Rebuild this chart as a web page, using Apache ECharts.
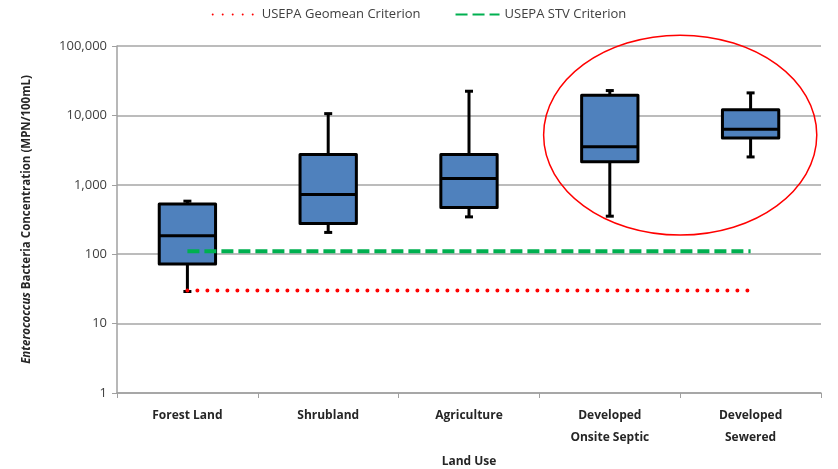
<!DOCTYPE html>
<html>
<head>
<meta charset="utf-8">
<script src="https://cdn.jsdelivr.net/npm/echarts@6/dist/echarts.min.js"></script>
<style>
  html, body { margin: 0; padding: 0; background: #fff; }
  #chart { width: 838px; height: 469px; }
</style>
</head>
<body>
<div id="chart"></div>
<script>
// land use categories
var categories = ['Forest Land', 'Shrubland', 'Agriculture', 'Developed\nOnsite Septic', 'Developed\nSewered']
// box stats per category: min, q1, median, q3, max
var whiskerLow = [29, 206, 345, 353, 2520]
var q1 = [72, 277, 471, 2140, 4740]
var median = [184, 726, 1230, 3520, 6320]
var q3 = [531, 2730, 2730, 19500, 12100]
var whiskerHigh = [581, 10600, 22300, 22800, 21100]
// criteria (MPN/100mL)
var geomean = [30, 30, 30, 30, 30]
var stv = [110, 110, 110, 110, 110]
var yTicks = [1, 10, 100, 1000, 10000, 100000]

var boxData = categories.map(function (c, i) {
  return [i, whiskerLow[i], q1[i], median[i], q3[i], whiskerHigh[i]]
})

var chart = echarts.init(document.getElementById('chart'))
var font = '"Open Sans", "Liberation Sans", sans-serif'
var stroke = '#000'

function renderBox (params, api) {
  var idx = api.value(0)
  var pLow = api.coord([idx, api.value(1)])
  var pQ1 = api.coord([idx, api.value(2)])
  var pMed = api.coord([idx, api.value(3)])
  var pQ3 = api.coord([idx, api.value(4)])
  var pHigh = api.coord([idx, api.value(5)])
  var w = api.size([1, 0])[0] * 0.4
  var cx = pMed[0]
  var cap = 4
  var ls = { stroke: stroke, lineWidth: 3 }
  return {
    type: 'group',
    children: [
      { type: 'line', shape: { x1: cx, y1: pHigh[1], x2: cx, y2: pQ3[1] }, style: ls },
      { type: 'line', shape: { x1: cx, y1: pQ1[1], x2: cx, y2: pLow[1] }, style: ls },
      { type: 'line', shape: { x1: cx - cap, y1: pHigh[1], x2: cx + cap, y2: pHigh[1] }, style: ls },
      { type: 'line', shape: { x1: cx - cap, y1: pLow[1], x2: cx + cap, y2: pLow[1] }, style: ls },
      {
        type: 'rect',
        shape: { x: cx - w / 2, y: pQ3[1], width: w, height: pQ1[1] - pQ3[1] },
        style: { fill: '#4F81BD', stroke: stroke, lineWidth: 3, lineJoin: 'round' }
      },
      { type: 'line', shape: { x1: cx - w / 2, y1: pMed[1], x2: cx + w / 2, y2: pMed[1] }, style: ls }
    ]
  }
}

var option = {
  backgroundColor: '#fff',
  animation: false,
  grid: {
    left: 117,
    right: 17,
    top: 46,
    bottom: 76,
    containLabel: false,
    outerBoundsMode: 'none'
  },
  legend: {
    top: 3,
    left: 'center',
    itemWidth: 44,
    itemHeight: 14,
    itemGap: 34,
    itemStyle: { opacity: 0 },
    textStyle: {
      fontFamily: font,
      fontSize: 13,
      color: '#404040'
    },
    data: ['USEPA Geomean Criterion', 'USEPA STV Criterion']
  },
  xAxis: {
    type: 'category',
    data: categories,
    name: 'Land Use',
    nameLocation: 'middle',
    nameGap: 63,
    nameTextStyle: {
      fontFamily: font,
      fontSize: 12,
      fontWeight: 'bold',
      color: '#262626'
    },
    axisLine: { lineStyle: { color: '#A0A0A0', width: 1.5 } },
    axisTick: { show: true, length: 5, lineStyle: { color: '#A0A0A0' } },
    axisLabel: {
      interval: 0,
      margin: 12,
      lineHeight: 22,
      fontFamily: font,
      fontSize: 12,
      fontWeight: 'bold',
      color: '#262626'
    }
  },
  yAxis: {
    type: 'log',
    logBase: 10,
    min: yTicks[0],
    max: yTicks[yTicks.length - 1],
    name: '{i|Enterococcus} Bacteria Concentration (MPN/100mL)',
    nameLocation: 'middle',
    nameGap: 84,
    nameTextStyle: {
      fontFamily: font,
      fontSize: 11.5,
      fontWeight: 'bold',
      color: '#262626',
      rich: {
        i: { fontFamily: font, fontSize: 11.5, fontWeight: 'bold', fontStyle: 'italic', color: '#262626' }
      }
    },
    axisLine: { show: true, lineStyle: { color: '#A0A0A0', width: 1.5 } },
    axisTick: { show: true, inside: false, length: 5, lineStyle: { color: '#A0A0A0' } },
    axisLabel: {
      margin: 10,
      fontFamily: font,
      fontSize: 13,
      color: '#404040',
      formatter: function (v) { return Number(v).toLocaleString('en-US') }
    },
    splitLine: { show: true, lineStyle: { color: '#A6A6A6', width: 1.5 } }
  },
  series: [
    {
      name: 'boxes',
      type: 'custom',
      renderItem: renderBox,
      encode: { x: 0, y: [1, 2, 3, 4, 5] },
      data: boxData,
      z: 2
    },
    {
      name: 'USEPA Geomean Criterion',
      type: 'line',
      symbol: 'none',
      data: geomean,
      lineStyle: { color: '#FF0000', width: 4, type: [0, 10], cap: 'round' },
      itemStyle: { color: '#FF0000' },
      z: 3
    },
    {
      name: 'USEPA STV Criterion',
      type: 'line',
      symbol: 'none',
      data: stv,
      lineStyle: { color: '#00B050', width: 4, type: [12, 5] },
      itemStyle: { color: '#00B050' },
      z: 3
    }
  ]
}
chart.setOption(option)

// red highlight ellipse around the developed land uses
var pSeptic = chart.convertToPixel({ gridIndex: 0 }, [3, 5200])
var pSewer = chart.convertToPixel({ gridIndex: 0 }, [4, 5200])
var pDecade = chart.convertToPixel({ gridIndex: 0 }, [4, 520])
var step = pSewer[0] - pSeptic[0]
chart.setOption({
  graphic: [{
    type: 'ellipse',
    shape: {
      cx: (pSeptic[0] + pSewer[0]) / 2,
      cy: pSewer[1],
      rx: step * 0.97,
      ry: (pDecade[1] - pSewer[1]) * 1.44
    },
    style: { fill: 'none', stroke: '#FF0000', lineWidth: 1.5 },
    z: 10
  }]
})
</script>
</body>
</html>
